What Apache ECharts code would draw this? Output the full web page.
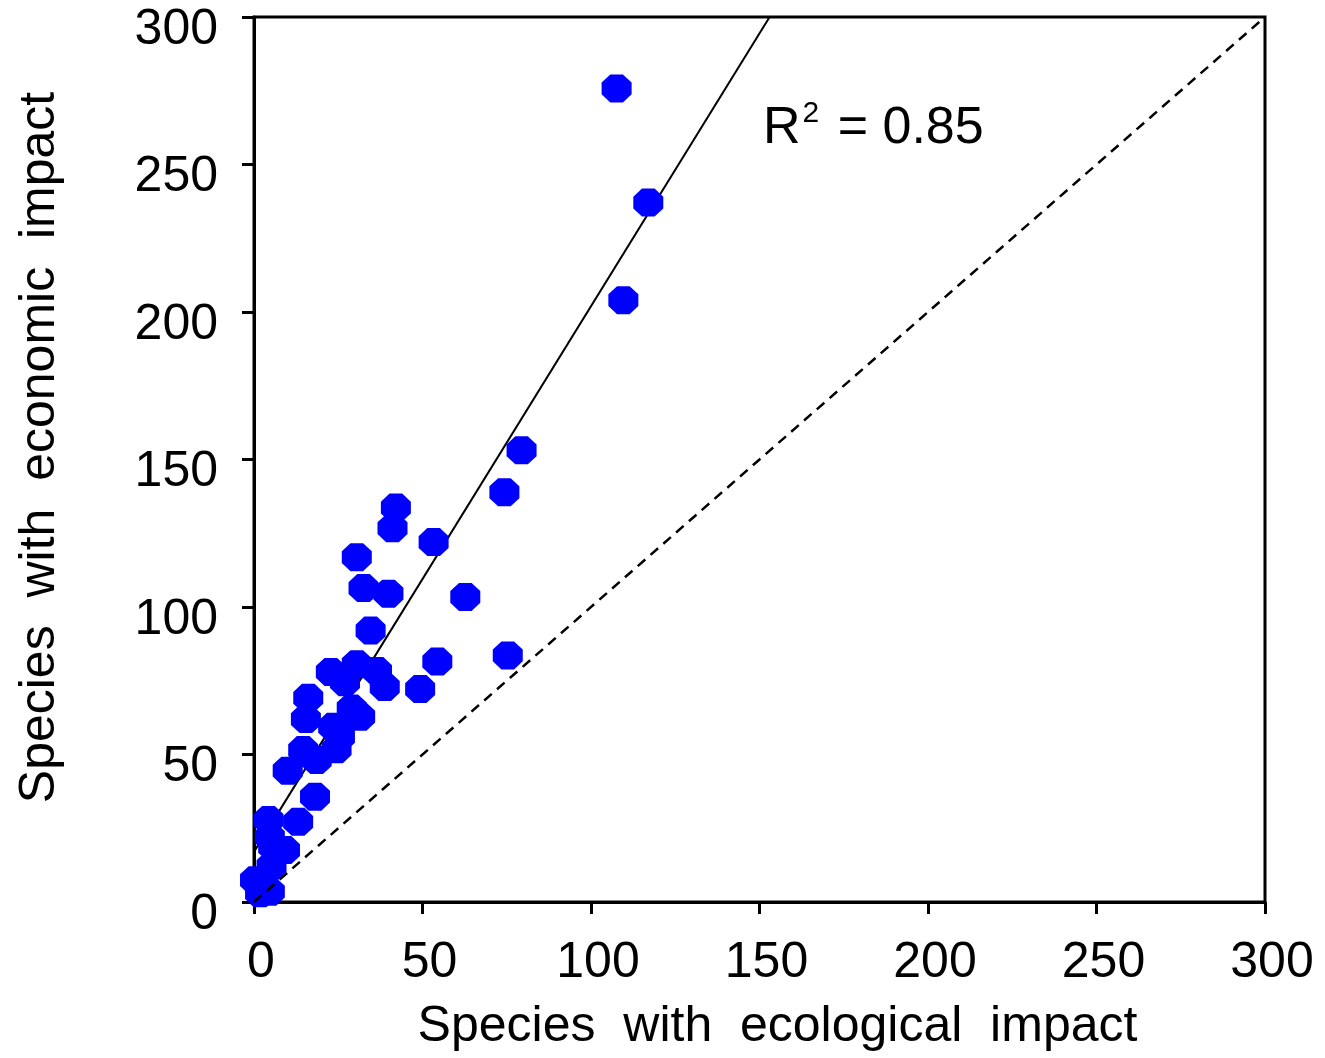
<!DOCTYPE html>
<html>
<head>
<meta charset="utf-8">
<script src="https://cdn.jsdelivr.net/npm/echarts@6/dist/echarts.min.js"></script>
<style>
html,body{margin:0;padding:0;background:#fff;}
#chart{width:1325px;height:1058px;}
</style>
</head>
<body>
<div id="chart"></div>
<script>
// Species with ecological impact (x)
var ecological = [107.6, 117, 109.6, 79.4, 74.3, 42.1, 41.1, 53.3, 30.5, 32.5,
  39.9, 62.7, 34.6, 75.3, 54.4, 49.3, 38.8, 36.5, 30.5, 22.8,
  27, 16.1, 15.4, 29, 31.5, 23.5, 25.5, 14.6, 24.5, 18.6,
  10, 18.1, 4.3, 13.1, 4.7, 5.7, 9.2, 5.2, 0.3, 4.7, 1.8];
// Species with economic impact (y)
var economic = [275.8, 237.1, 204, 153.1, 138.9, 133.7, 126.7, 122, 116.9, 106.4,
  104.5, 103.4, 92, 83.6, 81.5, 72.2, 72.9, 78.3, 80.6, 78,
  74.5, 69.2, 62, 65.6, 62.8, 59.4, 56, 51.5, 51.8, 48.1,
  44.5, 35.7, 27.8, 27.2, 22, 18.7, 17.6, 12.2, 7.4, 3.5, 3];
// regression line end points
var fitX = [0, 153];
var fitY = [17, 300];
// 1:1 reference line
var oneX = [0, 300];
var oneY = [0, 300];
var ticks = [0, 50, 100, 150, 200, 250, 300];
var xTitle = 'Species  with  ecological  impact';
var yTitle = 'Species  with  economic  impact';
var r2Text = '{a|R}{s|2}{a| = 0.85}';

var pts = ecological.map(function (x, i) { return [x, economic[i]]; });
var fit = fitX.map(function (x, i) { return [x, fitY[i]]; });
var one = oneX.map(function (x, i) { return [x, oneY[i]]; });

var FONT = '"Liberation Sans", Arial, sans-serif';
var chart = echarts.init(document.getElementById('chart'), null, {renderer: 'canvas'});
var axisCommon = {
  type: 'value', min: ticks[0], max: ticks[ticks.length - 1], interval: 50,
  splitLine: {show: false},
  axisLine: {show: true, onZero: false, lineStyle: {color: '#000', width: 3}},
  axisTick: {show: true, inside: false, length: 12, lineStyle: {color: '#000', width: 3}},
  nameLocation: 'middle',
  nameTextStyle: {fontFamily: FONT, fontSize: 50, color: '#000'}
};
chart.setOption({
  animation: false,
  backgroundColor: '#fff',
  grid: {left: 254, right: 60, top: 17, bottom: 156, show: true, borderColor: '#000', borderWidth: 3,
    containLabel: false, outerBoundsMode: 'none'},
  xAxis: echarts.util.merge({
    name: xTitle, nameGap: 100,
    nameTextStyle: {padding: [0, 0, 0, 36]},
    axisLabel: {fontFamily: FONT, fontSize: 50, color: '#000', margin: 36, padding: [0, 0, 0, 14]}
  }, axisCommon),
  yAxis: echarts.util.merge({
    name: yTitle, nameGap: 189,
    nameTextStyle: {padding: [0, 0, 0, 24]},
    axisLabel: {fontFamily: FONT, fontSize: 50, color: '#000', margin: 36,
      verticalAlign: 'top', lineHeight: 26}
  }, axisCommon),
  graphic: [{
    type: 'text', x: 763, y: 127, z: 100,
    style: {
      text: r2Text, fill: '#000', verticalAlign: 'middle',
      rich: {
        a: {fontFamily: FONT, fontSize: 52, color: '#000', verticalAlign: 'bottom', lineHeight: 56},
        s: {fontFamily: FONT, fontSize: 30, color: '#000', verticalAlign: 'top', lineHeight: 56, padding: [0, 4, 0, 2]}
      }
    }
  }],
  series: [
    {
      type: 'line', data: fit, symbol: 'none', z: 1,
      lineStyle: {color: '#000', width: 2}
    },
    {
      type: 'scatter', data: pts, z: 2,
      symbol: 'path://M29,0 L71,0 L100,29 L100,71 L71,100 L29,100 L0,71 L0,29 Z',
      symbolSize: [30, 28],
      itemStyle: {color: '#0000ff', opacity: 1}
    },
    {
      type: 'line', data: one, symbol: 'none', z: 3,
      lineStyle: {color: '#000', width: 2.5, type: [10, 7]}
    }
  ]
});
</script>
</body>
</html>
